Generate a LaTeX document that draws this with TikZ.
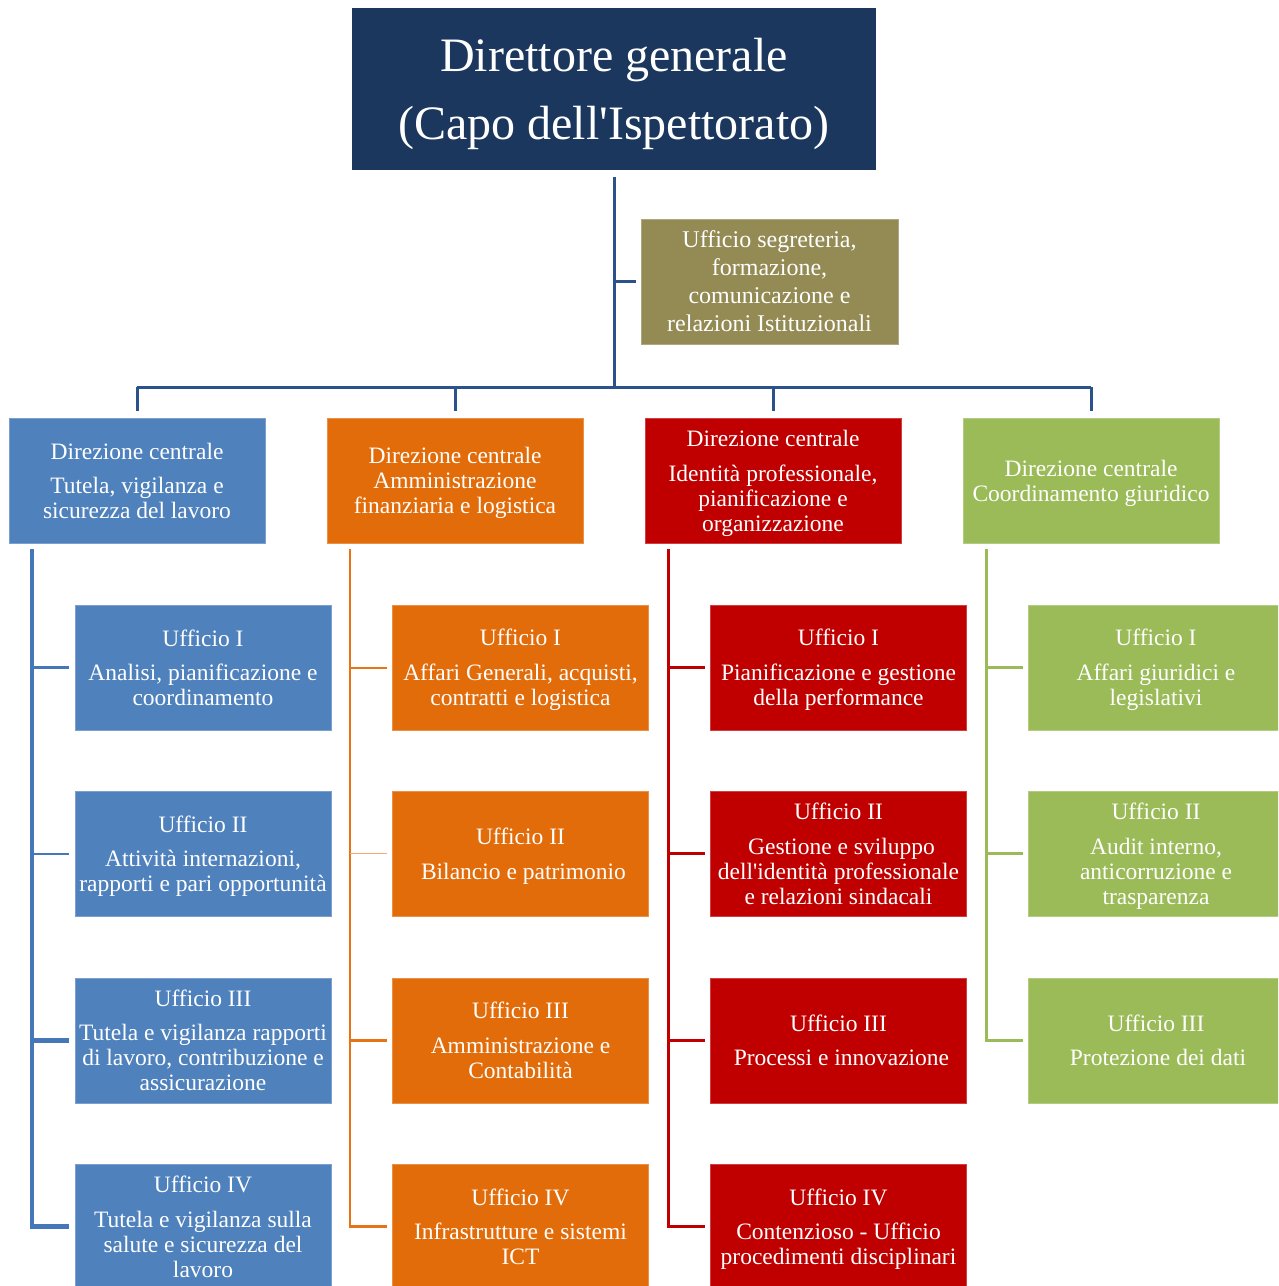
\documentclass[tikz,border=0pt]{standalone}
\usepackage{fontspec}
\setmainfont{Liberation Serif}
\definecolor{navy}{RGB}{27,55,94}
\definecolor{olive}{RGB}{148,138,84}
\definecolor{cblue}{RGB}{79,129,189}
\definecolor{corange}{RGB}{227,108,10}
\definecolor{cred}{RGB}{192,0,0}
\definecolor{cgreen}{RGB}{155,187,89}
\definecolor{lmain}{RGB}{44,82,140}
\definecolor{lblue}{RGB}{70,120,185}
\definecolor{lorange}{RGB}{232,115,20}
\definecolor{lred}{RGB}{192,0,0}
\definecolor{lgreen}{RGB}{155,187,89}
\begin{document}
\begin{tikzpicture}[x=1pt,y=-1pt,
  box/.style={rectangle, inner sep=0pt, minimum width=256pt, minimum height=125pt, text depth=0pt,
    text=white, align=center, font=\fontsize{23.5}{25}\selectfont, draw=#1!75!white, line width=0.6pt, fill=#1},
  mainline/.style={draw=lmain, line width=3pt},
]
\useasboundingbox (0,0) rectangle (1278,1286);
\clip (0,0) rectangle (1278,1286);
\fill[white] (0,0) rectangle (1278,1286);

% top
\node[rectangle, fill=navy, minimum width=524pt, minimum height=162pt, inner sep=0pt, text=white, text depth=0pt,
  align=center, font=\fontsize{48}{68}\selectfont] (top) at (614,89)
  {Direttore generale\\(Capo dell\textquotesingle Ispettorato)};

\node[box=olive, minimum width=257pt, font=\fontsize{24}{28}\selectfont] (seg) at (769.5,281.5)
  {Ufficio segreteria,\\formazione,\\comunicazione e\\relazioni Istituzionali};

% direzioni
\node[box=cblue] (dA) at (137,480.5) {Direzione centrale\\[9pt]Tutela, vigilanza e\\sicurezza del lavoro};
\node[box=corange] (dB) at (455,480.5) {Direzione centrale\\Amministrazione\\finanziaria e logistica};
\node[box=cred] (dC) at (773,480.5) {Direzione centrale\\[10pt]Identità professionale,\\pianificazione e\\organizzazione};
\node[box=cgreen] (dD) at (1091,480.5) {Direzione centrale\\Coordinamento giuridico};

% blue column
\node[box=cblue] (uA1) at (203,667.5) {Ufficio I\\[9pt]Analisi, pianificazione e\\coordinamento};
\node[box=cblue] (uA2) at (203,853.5) {Ufficio II\\[9pt]Attività internazioni,\\rapporti e pari opportunità};
\node[box=cblue] (uA3) at (203,1040.5) {Ufficio III\\[9pt]Tutela e vigilanza rapporti\\di lavoro, contribuzione e\\assicurazione};
\node[box=cblue] (uA4) at (203,1226.5) {Ufficio IV\\[10pt]Tutela e vigilanza sulla\\salute e sicurezza del\\lavoro};

% orange column
\node[box=corange] (uB1) at (520.5,667.5) {Ufficio I\\[10pt]Affari Generali, acquisti,\\contratti e logistica};
\node[box=corange] (uB2) at (520.5,853.5) {Ufficio II\\[10pt]\hspace*{6pt}Bilancio e patrimonio};
\node[box=corange] (uB3) at (520.5,1040.5) {Ufficio III\\[10pt]Amministrazione e\\Contabilità};
\node[box=corange] (uB4) at (520.5,1226.5) {Ufficio IV\\[9pt]Infrastrutture e sistemi\\ICT};

% red column
\node[box=cred] (uC1) at (838.5,667.5) {Ufficio I\\[10pt]Pianificazione e gestione\\della performance};
\node[box=cred] (uC2) at (838.5,853.5) {Ufficio II\\[10pt]\hspace*{6pt}Gestione e sviluppo\\dell\textquotesingle identità professionale\\e relazioni sindacali};
\node[box=cred] (uC3) at (838.5,1040.5) {Ufficio III\\[9pt]\hspace*{6pt}Processi e innovazione};
\node[box=cred] (uC4) at (838.5,1226.5) {Ufficio IV\\[9pt]Contenzioso - Ufficio\\procedimenti disciplinari};

% green column
\node[box=cgreen] (uD1) at (1156,667.5) {Ufficio I\\[10pt]Affari giuridici e\\legislativi};
\node[box=cgreen] (uD2) at (1156,853.5) {Ufficio II\\[10pt]Audit interno,\\anticorruzione e\\trasparenza};
\node[box=cgreen] (uD3) at (1156,1040.5) {Ufficio III\\[9pt]\hspace*{4pt}Protezione dei dati};

% main connectors
\coordinate (bus) at (614,387);
\draw[mainline] ([yshift=-7pt]top.south) -- (top.south |- bus);
\draw[mainline] (top.south |- seg.west) -- ([xshift=-5pt]seg.west);
\draw[mainline] (dA.north |- bus) -- (dD.north |- bus);
\foreach \d in {dA,dB,dC,dD}
  \draw[mainline] (\d.north |- bus) -- ([yshift=7pt]\d.north);

% blue connectors
\coordinate (vA) at (32,549);
\draw[draw=lblue, line width=4.5pt] (vA) -- (vA |- uA4.west) -- ([xshift=-6pt]uA4.west);
\draw[draw=lblue, line width=2.5pt] (vA |- uA1.west) -- ([xshift=-6pt]uA1.west);
\draw[draw=lblue, line width=2pt] (vA |- uA2.west) -- ([xshift=-6pt]uA2.west);
\draw[draw=lblue, line width=4.5pt] (vA |- uA3.west) -- ([xshift=-6pt]uA3.west);

% orange connectors
\coordinate (vB) at (350,549);
\draw[draw=lorange, line width=2.3pt] (vB) -- (vB |- uB4.west) -- ([xshift=-5pt]uB4.west);
\draw[draw=lorange, line width=2pt] (vB |- uB1.west) -- ([xshift=-5pt]uB1.west);
\draw[draw=lorange!60!white, line width=1pt] (vB |- uB2.west) -- ([xshift=-5pt]uB2.west);
\draw[draw=lorange, line width=2.5pt] (vB |- uB3.west) -- ([xshift=-5pt]uB3.west);

% red connectors
\coordinate (vC) at (668,549);
\draw[draw=lred, line width=3pt] (vC) -- (vC |- uC4.west) -- ([xshift=-5pt]uC4.west);
\foreach \u in {uC1,uC2,uC3}
  \draw[draw=lred, line width=3pt] (vC |- \u.west) -- ([xshift=-5pt]\u.west);

% green connectors
\coordinate (vD) at (986,549);
\draw[draw=lgreen, line width=3pt] (vD) -- (vD |- uD3.west) -- ([xshift=-5pt]uD3.west);
\foreach \u in {uD1,uD2}
  \draw[draw=lgreen, line width=2.5pt] (vD |- \u.west) -- ([xshift=-5pt]\u.west);
\end{tikzpicture}
\end{document}
